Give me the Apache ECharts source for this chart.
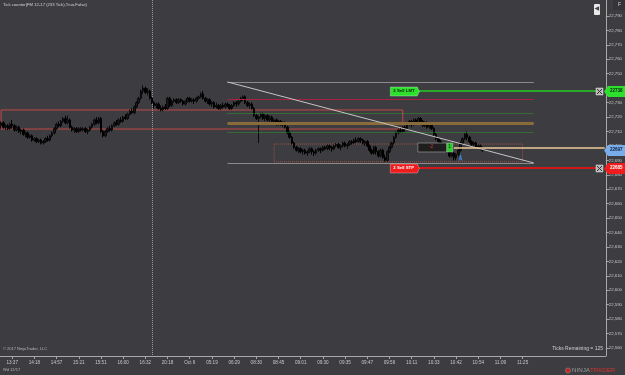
<!DOCTYPE html>
<html><head><meta charset="utf-8">
<script src="https://cdn.jsdelivr.net/npm/echarts@6/dist/echarts.min.js"></script>
<style>html,body{margin:0;padding:0;background:#3d3c41;}#c{width:625px;height:375px;}</style>
</head><body><div id="c"></div>
<script>
// ---------- data ----------
const xLabels = ['13:37','14:18','14:57','15:21','15:51','16:00','16:32','20:18','Oct 6','05:19','06:29','08:30',
  '08:45','09:01','09:30','09:35','09:47','09:56','10:11','10:33','10:42','10:54','11:09','11:25'];
const slotCount = 273;      // bar slots on the time axis (incl. future space)
const firstLabelSlot = 5, labelEvery = 10;

// [open, close, low, high]
const candles = [
[22714,22716,22712,22717],[22716,22713,22712,22717],[22713,22714,22711,22715],[22714,22712,22711,22715],
[22712,22715,22711,22716],[22715,22714,22712,22718],[22714,22711,22710,22715],[22711,22713,22710,22714],
[22713,22710,22709,22714],[22710,22711,22708,22712],[22711,22708,22707,22712],[22708,22709,22706,22710],
[22709,22706,22705,22710],[22706,22707,22705,22708],[22707,22704,22703,22708],[22704,22705,22703,22706],
[22705,22703,22702,22706],[22703,22704,22702,22705],[22704,22702,22701,22705],[22702,22703,22701,22704],
[22703,22705,22702,22706],[22705,22704,22703,22707],[22704,22707,22703,22708],[22707,22709,22706,22710],
[22709,22712,22708,22713],[22712,22715,22711,22716],[22715,22714,22713,22717],[22714,22717,22713,22718],
[22717,22719,22716,22720],[22719,22716,22715,22721],[22716,22718,22715,22721],[22718,22713,22712,22719],
[22713,22711,22710,22714],[22711,22712,22709,22713],[22712,22710,22709,22713],[22710,22712,22709,22713],
[22712,22711,22710,22713],[22711,22712,22710,22713],[22712,22710,22709,22713],[22710,22711,22708,22712],
[22711,22713,22710,22714],[22713,22715,22712,22716],[22715,22718,22714,22719],[22718,22716,22715,22720],
[22716,22719,22715,22720],[22719,22710,22709,22720],[22710,22707,22706,22711],[22707,22710,22706,22711],
[22710,22712,22709,22713],[22712,22711,22710,22714],[22711,22714,22710,22715],[22714,22716,22713,22717],
[22716,22715,22714,22718],[22715,22718,22714,22719],[22718,22717,22716,22720],[22717,22720,22716,22721],
[22720,22719,22718,22722],[22719,22722,22718,22723],[22722,22724,22721,22725],[22724,22723,22722,22726],
[22723,22727,22722,22728],[22727,22730,22726,22731],[22730,22733,22729,22734],[22733,22738,22732,22739],
[22738,22740,22736,22742],[22740,22737,22736,22741],[22737,22738,22735,22740],[22738,22733,22732,22739],
[22733,22730,22729,22734],[22730,22728,22726,22731],[22728,22729,22726,22730],[22729,22726,22725,22730],
[22726,22725,22724,22728],[22725,22727,22724,22728],[22727,22726,22725,22729],[22726,22733,22725,22734],
[22733,22728,22727,22734],[22728,22731,22727,22732],[22731,22732,22730,22733],[22732,22730,22729,22733],
[22730,22732,22729,22733],[22732,22731,22730,22733],[22731,22729,22728,22732],[22729,22731,22728,22732],
[22731,22733,22730,22734],[22733,22731,22730,22734],[22731,22732,22730,22733],[22732,22731,22729,22733],
[22731,22733,22730,22734],[22733,22734,22732,22735],[22734,22736,22733,22737],[22736,22733,22732,22738],
[22733,22731,22730,22734],[22731,22732,22729,22733],[22732,22729,22728,22733],[22729,22730,22727,22731],
[22730,22727,22726,22731],[22727,22728,22726,22730],[22728,22726,22725,22729],[22726,22728,22725,22729],
[22728,22727,22726,22730],[22727,22729,22726,22730],[22729,22728,22727,22730],[22728,22726,22725,22729],
[22726,22728,22725,22729],[22728,22730,22727,22731],[22730,22729,22727,22731],[22729,22731,22728,22732],
[22731,22733,22730,22734],[22733,22734,22731,22735],[22734,22730,22729,22735],[22730,22728,22727,22731],
[22728,22729,22726,22730],[22729,22726,22725,22730],[22726,22721,22720,22727],[22721,22719,22718,22722],
[22719,22720,22702,22721],[22720,22722,22719,22723],[22722,22719,22718,22723],[22719,22721,22717,22722],
[22721,22718,22717,22722],[22718,22720,22716,22721],[22720,22717,22716,22721],[22717,22718,22715,22719],
[22718,22716,22714,22719],[22716,22717,22714,22718],[22717,22715,22714,22718],[22715,22716,22713,22717],
[22716,22713,22712,22717],[22713,22709,22708,22714],[22709,22706,22705,22710],[22706,22702,22701,22707],
[22702,22699,22698,22703],[22699,22697,22696,22700],[22697,22698,22695,22699],[22698,22696,22695,22699],
[22696,22697,22694,22698],[22697,22695,22694,22698],[22695,22696,22693,22697],[22696,22698,22695,22699],
[22698,22696,22694,22699],[22696,22695,22693,22697],[22695,22697,22694,22698],[22697,22698,22696,22699],
[22698,22697,22695,22699],[22697,22699,22696,22700],[22699,22698,22697,22700],[22698,22700,22697,22701],
[22700,22699,22697,22701],[22699,22698,22696,22700],[22698,22700,22697,22701],[22700,22701,22699,22702],
[22701,22699,22698,22702],[22699,22700,22697,22701],[22700,22702,22699,22703],[22702,22700,22699,22703],
[22700,22701,22698,22702],[22701,22703,22700,22704],[22703,22702,22701,22704],[22702,22704,22701,22705],
[22704,22703,22702,22706],[22703,22705,22702,22706],[22705,22704,22702,22706],[22704,22702,22701,22705],
[22702,22703,22700,22704],[22703,22700,22699,22704],[22700,22697,22696,22701],[22697,22695,22694,22698],
[22695,22699,22694,22700],[22699,22696,22694,22700],[22696,22693,22692,22697],[22693,22697,22692,22698],
[22697,22692,22691,22698],[22692,22690,22689,22694],[22690,22696,22689,22697],[22696,22699,22695,22700],
[22699,22702,22698,22703],[22702,22706,22701,22707],[22706,22709,22705,22710],[22709,22711,22708,22712],
[22711,22710,22709,22713],[22710,22713,22709,22714],[22713,22712,22710,22714],[22712,22715,22711,22716],
[22715,22717,22714,22718],[22717,22715,22713,22718],[22715,22718,22714,22719],[22718,22716,22715,22719],
[22716,22719,22715,22720],[22719,22717,22715,22720],[22717,22714,22713,22718],[22714,22716,22713,22717],
[22716,22713,22712,22717],[22713,22715,22712,22716],[22715,22712,22711,22716],[22712,22708,22707,22713],
[22708,22705,22704,22709],[22705,22703,22701,22706],[22703,22700,22699,22704],[22700,22698,22697,22701],
[22698,22699,22696,22700],[22699,22696,22695,22700],[22696,22693,22692,22697],[22693,22695,22692,22696],
[22695,22692,22690,22696],[22692,22694,22690,22695],[22694,22697,22693,22698],[22697,22702,22696,22703],
[22702,22705,22701,22706],[22705,22708,22704,22709],[22708,22706,22704,22710],[22706,22703,22702,22707],
[22703,22701,22700,22704],[22701,22702,22699,22703],[22702,22699,22698,22703],[22699,22700,22698,22701],
[22700,22698,22697,22701],[22698,22697,22696,22699]
];

const priceTicks = {min: 22560, max: 22790, step: 10};

// drawing objects (bar index, price)
const levelNames  = ['grayTop','crimson','greenDot','tan','green','grayBottom'];
const levelPrices = [22744.3, 22732.5, 22722.8, 22715.9, 22709.6, 22688.2];
const levelSpan   = [102, 240];
const trendLine   = [[102, 22744.3], [240, 22688.2]];
const zoneRed     = [[0, 22724.9], [181, 22711.7]];
const zoneBrown   = [[123, 22701.3], [235, 22689.0]];
const crosshairBar = 68;

// orders / position
const orderNames  = ['2 Sell LMT', '2 Sell STP'];
const orderPrices = [22738, 22685];
const orderSpan   = [188, 270];
const lastPrice   = 22697;
const avgPrice    = 22699;
const positionQty = -2;
const positionSpan = [204, 272];
const executions  = [[207, 22695]];

// ---------- styles ----------
const BG = '#3d3c41', TXT = '#c8c8c8', AXIS = '#a8a8a8';
const FONT = 'Liberation Sans';
const levelStyle = {
  grayTop:   {color:'#8a8a8a', width:1, type:'solid'},
  crimson:   {color:'#a8213e', width:1, type:'solid'},
  greenDot:  {color:'#2f9a2f', width:1, type:'dotted'},
  tan:       {color:'#8a6c3c', width:3, type:'solid'},
  green:     {color:'#2c9a2c', width:1, type:'dotted'},
  grayBottom:{color:'#8a8a8a', width:1, type:'solid'}
};
const orderStyle = [
  {fill:'#2ee02e', line:'#2aa82a', text:'#0a200a'},
  {fill:'#ee1c1c', line:'#d41818', text:'#ffffff'}
];

// ---------- build ----------
const categories = [];
for (let i = 0; i < slotCount; i++) {
  const k = i - firstLabelSlot;
  categories.push(k >= 0 && k % labelEvery === 0 && k / labelEvery < xLabels.length ? xLabels[k / labelEvery] : '');
}
const showLbl = (idx) => categories[idx] !== '';

const markLines = [];
levelNames.forEach((n, j) => {
  const s = levelStyle[n];
  markLines.push([{coord:[levelSpan[0], levelPrices[j]], lineStyle:{color:s.color, width:s.width, type:s.type}},
                  {coord:[levelSpan[1], levelPrices[j]]}]);
});
markLines.push([{coord:trendLine[0], lineStyle:{color:'#c4c4c4', width:1, type:'solid'}}, {coord:trendLine[1]}]);
orderPrices.forEach((p, j) => {
  markLines.push([{coord:[orderSpan[0], p], lineStyle:{color:orderStyle[j].line, width:2, type:'solid'}},
                  {coord:[orderSpan[1], p]}]);
});
markLines.push([{coord:[positionSpan[0], avgPrice], lineStyle:{color:'#ecca9a', width:1.5, type:'solid'}},
                {coord:[positionSpan[1], avgPrice]}]);

const chart = echarts.init(document.getElementById('c'), null, {renderer:'canvas'});
chart.setOption({
  backgroundColor: BG,
  animation: false,
  grid: {left: 0, right: 19, top: 16, bottom: 27},
  xAxis: {
    type:'category', data:categories, boundaryGap:true, offset: 8,
    axisLine:{show:true, lineStyle:{color:AXIS, width:1}},
    axisTick:{show:true, interval:showLbl, alignWithLabel:true, length:3, lineStyle:{color:AXIS}},
    axisLabel:{interval:showLbl, fontSize:4.6, color:TXT, fontFamily:FONT, margin:4},
    splitLine:{show:false}
  },
  yAxis: {
    type:'value', position:'right', scale:true,
    min:priceTicks.min, max:priceTicks.max, interval:priceTicks.step,
    axisLine:{show:false},
    axisTick:{show:true, length:3, lineStyle:{color:AXIS}},
    axisLabel:{fontSize:4.3, color:TXT, fontFamily:FONT, margin:3},
    splitLine:{show:false}
  },
  series: [{
    type:'candlestick', data:candles, barWidth:2, silent:true,
    itemStyle:{color:'#1a1a1a', color0:'#000000', borderColor:'#0a0a0a', borderColor0:'#000000', borderWidth:1},
    markLine:{silent:true, symbol:['none','none'], label:{show:false}, data:markLines, animation:false},
    markArea:{silent:true, label:{show:false}, data:[
      [{coord:zoneRed[0], itemStyle:{color:'rgba(0,0,0,0)', borderColor:'#c24848', borderWidth:1}}, {coord:zoneRed[1]}],
      [{coord:zoneBrown[0], itemStyle:{color:'rgba(0,0,0,0)', borderColor:'#9a5442', borderWidth:1, borderType:'dotted'}}, {coord:zoneBrown[1]}]
    ]}
  },{
    type:'scatter', data:executions, symbol:'arrow', symbolSize:[3,8], silent:true,
    itemStyle:{color:'#3a90ee'}
  }]
});

// ---------- overlays (positions derived from scales) ----------
const W = chart.getWidth(), H = chart.getHeight();
const gx = i => chart.convertToPixel({xAxisIndex:0}, i);
const gy = p => chart.convertToPixel({yAxisIndex:0}, p);
const rightX = W - 19;
const axisY = H - 27 + 8;
const g = [];
// axis line full height
g.push({type:'line', shape:{x1:rightX+0.5, y1:0, x2:rightX+0.5, y2:axisY}, style:{stroke:AXIS, lineWidth:1}, z:5});
// crosshair
const cx = Math.round(gx(crosshairBar)) + 0.5;
g.push({type:'line', shape:{x1:cx, y1:0, x2:cx, y2:axisY}, style:{stroke:'#9a9a9a', lineWidth:1, lineDash:[1,1]}, z:1});
// texts
g.push({type:'text', left:3, top:3, style:{text:'Tick counter(FM 12-17 (233 Tick),True,False)', fill:'#d4d4d4', fontSize:4.2, fontFamily:FONT}, z:10});
g.push({type:'text', left:3, top:347, style:{text:'© 2017 NinjaTrader, LLC', fill:'#b4b4b4', fontSize:4, fontFamily:FONT}, z:10});
g.push({type:'text', right:22, top:346, style:{text:'Ticks Remaining = 125', fill:'#cfcfcf', fontSize:5, fontFamily:FONT}, z:10});
g.push({type:'text', left:3, top:368, style:{text:'Wd 12/17', fill:'#b4b4b4', fontSize:4, fontFamily:FONT}, z:10});
// logo
g.push({type:'circle', shape:{cx:568, cy:370.5, r:2.6}, style:{fill:'#c02828', stroke:'#888', lineWidth:0.6}, z:10});
g.push({type:'text', left:572, top:367, style:{text:'{a|NINJA}{b|TRADER}', fontSize:6.2, fontFamily:FONT,
  rich:{a:{fill:'#9a9a9a', fontSize:6.2, fontFamily:FONT}, b:{fill:'#d83030', fontSize:6.2, fontFamily:FONT}}}, z:10});
// top-right icons
g.push({type:'rect', shape:{x:594, y:4, width:6, height:11, r:1}, style:{fill:'#e8e8e8'}, z:10});
g.push({type:'text', left:594.5, top:5, style:{text:'◀', fill:'#444', fontSize:6, fontFamily:'DejaVu Sans'}, z:11});
g.push({type:'rect', shape:{x:613, y:0, width:12, height:10}, style:{fill:'#353438'}, z:10});
g.push({type:'text', left:618, top:2, style:{text:'F', fill:'#d0d0d0', fontSize:5, fontFamily:FONT}, z:11});

function priceTag(p, fill, textColor, label) {
  const y = Math.round(gy(p)) + 0.5;
  g.push({type:'polygon', shape:{points:[[rightX-2, y], [rightX+2, y-5.5], [W, y-5.5], [W, y+5.5], [rightX+2, y+5.5]]},
    style:{fill:fill}, z:12});
  g.push({type:'text', left:rightX+4, top:y-3, style:{text:label, fill:textColor, fontSize:4.5, fontWeight:'bold', fontFamily:FONT}, z:13});
}
function closeBox(y) {
  g.push({type:'rect', shape:{x:rightX-10, y:y-3.5, width:7, height:7}, style:{fill:'#b8b8b8', stroke:'#ddd', lineWidth:0.5}, z:12});
  g.push({type:'line', shape:{x1:rightX-9, y1:y-2.5, x2:rightX-4, y2:y+2.5}, style:{stroke:'#333', lineWidth:1}, z:13});
  g.push({type:'line', shape:{x1:rightX-4, y1:y-2.5, x2:rightX-9, y2:y+2.5}, style:{stroke:'#333', lineWidth:1}, z:13});
}
orderPrices.forEach((p, j) => {
  const y = Math.round(gy(p)) + 0.5;
  const x1 = gx(orderSpan[0]);
  g.push({type:'polygon', shape:{points:[[x1-28, y-4.5], [x1-1, y-4.5], [x1+1, y], [x1-1, y+4.5], [x1-28, y+4.5]]},
    style:{fill:orderStyle[j].fill, stroke:'#ffffff', lineWidth:0.3}, z:12});
  g.push({type:'text', left:x1-25, top:y-2.6, style:{text:orderNames[j], fill:orderStyle[j].text, fontSize:4.3, fontWeight:'bold', fontFamily:FONT}, z:13});
  closeBox(y);
  priceTag(p, orderStyle[j].fill, orderStyle[j].text, String(p));
});
// position box
{
  const y = Math.round(gy(avgPrice)) + 0.5;
  const x1 = gx(orderSpan[0]);
  g.push({type:'rect', shape:{x:x1-0.5, y:y-4.5, width:29, height:9}, style:{fill:'#1e1e1f', stroke:'#8a8a8a', lineWidth:0.8}, z:12});
  g.push({type:'text', left:x1+11, top:y-2.8, style:{text:String(positionQty), fill:'#e23030', fontSize:4.5, fontFamily:FONT}, z:13});
  g.push({type:'rect', shape:{x:x1+28.5, y:y-4.5, width:6, height:9}, style:{fill:'#2ccc2c', stroke:'#bbb', lineWidth:0.5}, z:12});
  g.push({type:'text', left:x1+30, top:y-2.8, style:{text:'1', fill:'#0a200a', fontSize:4.5, fontFamily:FONT}, z:13});
}
priceTag(lastPrice, '#78acea', '#0e1e38', String(lastPrice));

chart.setOption({graphic: g});
</script>
</body></html>
